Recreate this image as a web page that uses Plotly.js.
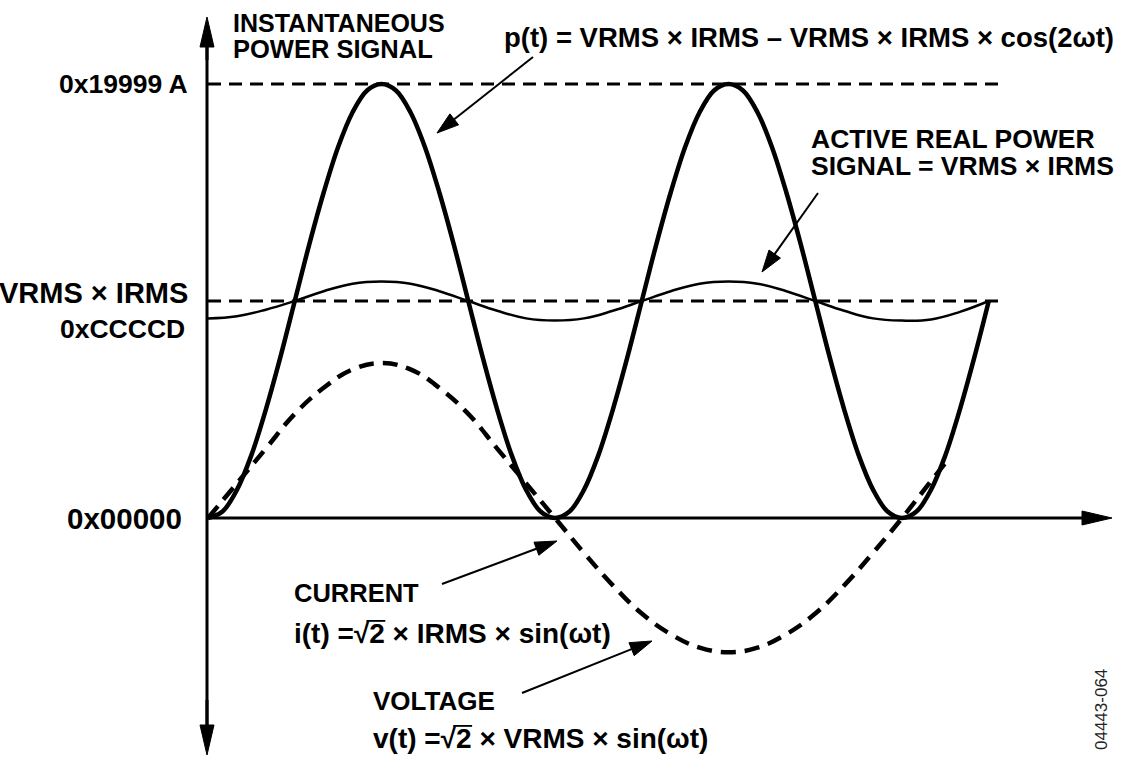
<!DOCTYPE html>
<html>
<head>
<meta charset="utf-8">
<script src="https://cdn.plot.ly/plotly-3.0.1.min.js"></script>
<style>html,body{margin:0;padding:0;background:#fff;}#chart{width:1138px;height:757px;}</style>
</head>
<body>
<div id="chart"></div>
<script>
// ---- data (phase ωt in degrees, amplitude in units of VRMS × IRMS) ----
const pThetaDeg = [0,7.5,15,22.5,30,37.5,45,52.5,60,67.5,75,82.5,90,97.5,105,112.5,120,127.5,135,142.5,150,157.5,165,172.5,180,
  187.5,195,202.5,210,217.5,225,232.5,240,247.5,255,262.5,270,277.5,285,292.5,300,307.5,315,322.5,330,337.5,345,352.5,360,
  367.5,375,382.5,390,397.5,405];
const powerSignal = [0,0.03,0.13,0.29,0.5,0.74,1.0,1.26,1.5,1.71,1.87,1.97,2.0,1.97,1.87,1.71,1.5,1.26,1.0,0.74,0.5,0.29,0.13,0.03,0,
  0.03,0.13,0.29,0.5,0.74,1.0,1.26,1.5,1.71,1.87,1.97,2.0,1.97,1.87,1.71,1.5,1.26,1.0,0.74,0.5,0.29,0.13,0.03,0,
  0.03,0.13,0.29,0.5,0.74,1.0];
const thetaDeg = [0,15,30,45,60,75,90,105,120,135,150,165,180,195,210,225,240,255,270,285,300,315,330,345,360,375,390,405];
const activePower = [0.92,0.93,0.96,1.0,1.045,1.08,1.09,1.08,1.045,1.0,0.955,0.92,0.91,0.92,0.955,1.0,1.045,1.08,1.09,1.08,1.045,1.0,0.955,0.92,0.91,0.915,0.95,1.0];
const vThetaDeg = [0,15,30,45,60,75,90,105,120,135,150,165,180,195,210,225,240,255,270,285,300,315,330,345,360,375,384];
const voltageCurrent = [0,0.16,0.32,0.48,0.60,0.685,0.714,0.685,0.60,0.48,0.32,0.16,0,-0.16,-0.31,-0.44,-0.535,-0.597,-0.618,-0.597,-0.535,-0.44,-0.31,-0.16,0,0.17,0.27];
const refLevels = [2, 1];
const refRange = [0, 412];
const tickLevels = [2, 1, 1, 0];
const tickLabels = ["0x19999 A", "VRMS × IRMS", "0xCCCCD", "0x00000"];

// ---- helpers: pixel -> paper ----
const W = 1138, H = 757;
const px = x => x / W;
const py = y => 1 - y / H;
const FONT = "Liberation Sans, Arial, Helvetica, sans-serif";

function arrow(x0, y0, x1, y1, lw, len, hw) {
  const dx = x1 - x0, dy = y1 - y0, L = Math.hypot(dx, dy);
  const ux = dx / L, uy = dy / L;
  const bx = x1 - ux * len, by = y1 - uy * len;
  const nx = -uy, ny = ux;
  return [
    {type: 'line', xref: 'paper', yref: 'paper', x0: px(x0), y0: py(y0), x1: px(bx + ux*2), y1: py(by + uy*2),
     line: {color: '#000', width: lw}},
    {type: 'path', xref: 'paper', yref: 'paper',
     path: `M${px(x1)},${py(y1)} L${px(bx + nx*hw)},${py(by + ny*hw)} L${px(bx - nx*hw)},${py(by - ny*hw)} Z`,
     fillcolor: '#000', line: {color: '#000', width: 1}}
  ];
}

const traces = [
  {x: refRange, y: [refLevels[0], refLevels[0]], mode: 'lines', line: {color: '#000', width: 3, dash: '13px,8px'}, hoverinfo: 'skip'},
  {x: refRange, y: [refLevels[1], refLevels[1]], mode: 'lines', line: {color: '#000', width: 3, dash: '13px,8px'}, hoverinfo: 'skip'},
  {x: thetaDeg, y: activePower, mode: 'lines', line: {color: '#000', width: 2.5, shape: 'spline', smoothing: 1.2}, name: 'Active real power'},
  {x: vThetaDeg, y: voltageCurrent, mode: 'lines', line: {color: '#000', width: 4.5, shape: 'spline', smoothing: 1.2, dash: '15px,9px'}, name: 'Voltage / current'},
  {x: pThetaDeg, y: powerSignal, mode: 'lines', line: {color: '#000', width: 4.5, shape: 'spline', smoothing: 1}, name: 'Instantaneous power'}
];

const shapes = [].concat(
  [{type: 'line', xref: 'paper', yref: 'paper', x0: px(207), y0: py(40), x1: px(207), y1: py(732), line: {color: '#000', width: 3}}],
  arrow(207, 60, 207, 17, 3, 30, 7),
  arrow(207, 700, 207, 755, 3, 30, 7),
  arrow(207, 518, 1112, 518, 3, 30, 7),
  arrow(533, 57, 437, 133, 2, 22, 7),
  arrow(818, 193, 762, 272, 2, 22, 7),
  arrow(442, 584, 557, 541, 2, 22, 7),
  arrow(522, 693, 652, 641, 2, 22, 7)
);

function txt(text, x, y, anchor, size, extra) {
  return Object.assign({text: text, xref: 'paper', yref: 'paper', x: px(x), y: py(y), xanchor: anchor, yanchor: 'middle',
    showarrow: false, font: {family: FONT, size: size, color: '#000'}, borderpad: 0}, extra || {});
}
const B = s => '<b>' + s + '</b>';

const annotations = [
  txt(B('INSTANTANEOUS'), 232, 23, 'left', 25),
  txt(B('POWER SIGNAL'), 232, 49, 'left', 25.5),
  txt(B('p(t) = VRMS × IRMS – VRMS × IRMS × cos(2ωt)'), 503, 37, 'left', 27.5),
  txt(B('ACTIVE REAL POWER'), 810, 139, 'left', 26.5),
  txt(B('SIGNAL = VRMS × IRMS'), 810, 166, 'left', 26.5),
  txt(B('CURRENT'), 293, 593, 'left', 25.5),
  txt(B('i(t) =√2 × IRMS × sin(ωt)'), 293, 633, 'left', 28),
  txt(B('VOLTAGE'), 372, 701, 'left', 26),
  txt(B('v(t) =√2 × VRMS × sin(ωt)'), 372, 738, 'left', 28),
  {text: '04443-064', xref: 'paper', yref: 'paper', x: px(1101), y: py(710), xanchor: 'center', yanchor: 'middle',
   textangle: -90, showarrow: false, font: {family: FONT, size: 17, color: '#222'}}
];
const labelSize = [26.5, 29, 26.5, 29.5];
const labelRight = [190, 190, 187, 184];
const shiftY = [0, 8, -28, 0];
tickLevels.forEach((lv, i) => {
  annotations.push({text: B(tickLabels[i]), xref: 'paper', yref: 'y', x: px(labelRight[i]), y: lv,
    xanchor: 'right', yanchor: 'middle', yshift: shiftY[i], showarrow: false,
    font: {family: FONT, size: labelSize[i], color: '#000'}});
});

const layout = {
  width: W, height: H, margin: {l: 0, r: 0, t: 0, b: 0},
  paper_bgcolor: '#fff', plot_bgcolor: '#fff', showlegend: false,
  xaxis: {range: [-107.9, 482.4], visible: false, fixedrange: true},
  yaxis: {range: [-1.101, 2.387], visible: false, fixedrange: true},
  shapes: shapes, annotations: annotations
};
Plotly.newPlot('chart', traces, layout, {staticPlot: true, displayModeBar: false}).then(gd => {
  // radical vinculum over the "2" of √2
  const svg = gd.querySelector('svg.main-svg');
  const extra = [];
  gd.querySelectorAll('text.annotation-text').forEach(t => {
    const s = t.textContent;
    const i = s.indexOf('√');
    if (i < 0) return;
    const a = t.getExtentOfChar(i), b = t.getExtentOfChar(i + 1);
    const m = t.getScreenCTM();
    const P = (x, y) => { const p = svg.createSVGPoint(); p.x = x; p.y = y; return p.matrixTransform(m); };
    const fs = a.height / 1.117;
    const base = a.y + 0.905 * fs;
    const yTop = base - 0.80 * fs;
    const p1 = P(a.x + a.width * 0.82, yTop), p2 = P(b.x + b.width + 0.5, yTop);
    extra.push({type: 'line', xref: 'paper', yref: 'paper', x0: px(p1.x), y0: py(p1.y), x1: px(p2.x), y1: py(p2.y),
      line: {color: '#000', width: 1.8}});
  });
  if (extra.length) Plotly.relayout(gd, {shapes: shapes.concat(extra)});
});
</script>
</body>
</html>
